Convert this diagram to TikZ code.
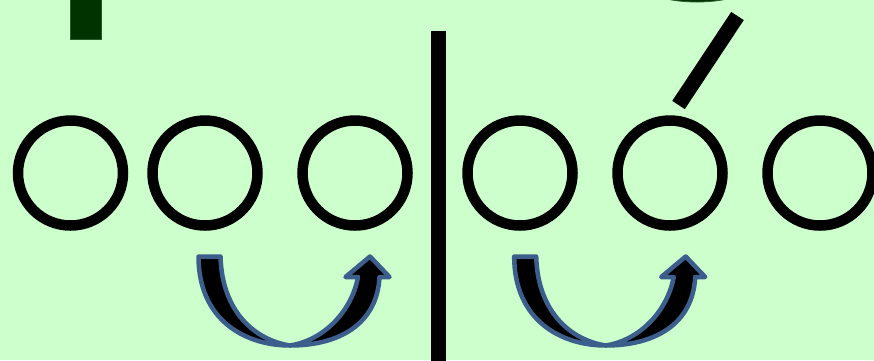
\documentclass[tikz,border=0pt]{standalone}
\usetikzlibrary{shapes.geometric}
\definecolor{bg}{RGB}{204,255,204}
\definecolor{dkgreen}{RGB}{0,51,0}
\definecolor{dkgreenedge}{RGB}{45,90,45}
\definecolor{arrowedge}{RGB}{59,94,140}
\tikzset{
  ring/.style={circle, draw=black, line width=10.5pt, minimum size=105pt, inner sep=0pt},
  uarrow/.style={fill=black, draw=arrowedge, line width=4.5pt, line join=round},
}
\begin{document}
\begin{tikzpicture}[x=1pt,y=-1pt]
\useasboundingbox (0,0) rectangle (874,360);
\fill[bg] (0,0) rectangle (874,360);
% top-left dark green block
\filldraw[fill=dkgreen, draw=dkgreenedge, line width=0.8pt] (70,-5) rectangle (101,39);
% top-right dark green ellipse (partly visible)
\filldraw[fill=dkgreen, draw=dkgreenedge, line width=0.8pt] (697,-38) ellipse [x radius=80, y radius=40];
% slanted bar
\coordinate (s1) at (737.5,16);
\coordinate (s2) at (678.5,105);
\draw[line width=15pt] (s1) -- (s2);
% vertical divider
\coordinate (v1) at (438.3,31);
\coordinate (v2) at (438.3,365);
\draw[line width=15.3pt] (v1) -- (v2);
% circles
\node[ring] (c1) at (70.5,173) {};
\node[ring] (c2) at (205,173) {};
\node[ring] (c3) at (355,173) {};
\node[ring] (c4) at (520,173) {};
\node[ring] (c5) at (670,173) {};
\node[ring] (c6) at (820,173) {};
% U-shaped arrows
\foreach \dx in {0,315.7}{
\begin{scope}[xshift=\dx]
\draw[uarrow] (198.5,256.5) -- (220.5,256.5)
  .. controls (222,312) and (255,340) .. (290,345.5)
  .. controls (325,340) and (352,310) .. (358,277)
  -- (345.5,277) -- (370,256.5) -- (389.5,277) -- (379.5,277)
  .. controls (377,325) and (338,345.5) .. (290,345.5)
  .. controls (245,345.5) and (198.5,320) .. (198.5,256.5) -- cycle;
\end{scope}}
\end{tikzpicture}
\end{document}
